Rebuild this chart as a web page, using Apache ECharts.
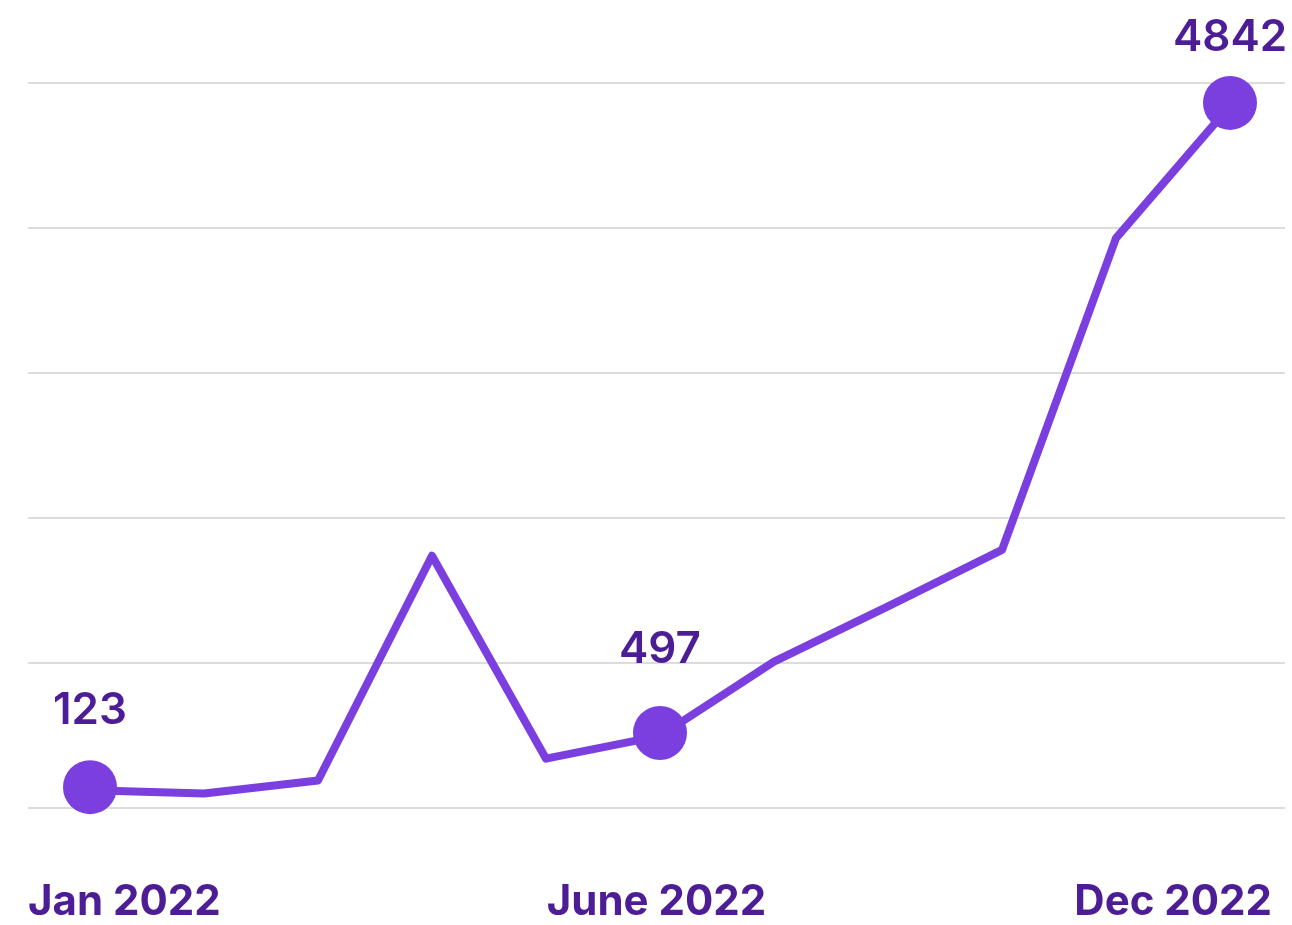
<!DOCTYPE html>
<html>
<head>
<meta charset="utf-8">
<script src="https://cdn.jsdelivr.net/npm/echarts@6/dist/echarts.min.js"></script>
<style>
  html, body { margin: 0; padding: 0; background: #fff; }
  #chart { width: 1292px; height: 925px; }
</style>
</head>
<body>
<div id="chart"></div>
<script>
// point names (hidden axis)
var points = ["Jan", "Feb", "Mar", "Apr", "May", "Jun", "Jul", "Aug", "Sep", "Oct", "Dec"];
var values = [123, 100, 190, 1740, 340, 497, 1010, 1390, 1780, 3930, 4842];
// points that get a dot and a value label
var markedIdx = [0, 5, 10];
var labelGap = [27, 34, 16];
// labels shown under the chart
var tickLabels = ["Jan 2022", "June 2022", "Dec 2022"];

var lineColor = "#7b3fe0";
var textColor = "#4c1d95";

var seriesData = values.map(function (v, i) {
  var k = markedIdx.indexOf(i);
  if (k < 0) {
    return { value: v, symbol: "none" };
  }
  return {
    value: v,
    symbol: "circle",
    symbolSize: 54,
    label: { show: true, position: "top", distance: labelGap[k] }
  };
});

var myChart = echarts.init(document.getElementById("chart"));
var option = {
  animation: false,
  grid: [
    { left: 28, right: 7, top: 83, bottom: 117, outerBoundsMode: "none" },
    { left: 33, right: 5, top: 83, bottom: 117, outerBoundsMode: "none" }
  ],
  xAxis: [
    {
      gridIndex: 0,
      type: "category",
      data: tickLabels.map(function (t, i) {
        if (i === 0) return { value: t, textStyle: { align: "left" } };
        if (i === tickLabels.length - 1) {
          return { value: t, textStyle: { align: "right", padding: [0, 13, 0, 0] } };
        }
        return t;
      }),
      boundaryGap: false,
      axisLine: { show: false },
      axisTick: { show: false },
      axisLabel: {
        margin: 73,
        color: textColor,
        fontFamily: "Inter",
        fontWeight: 700,
        fontSize: 42,
        interval: 0,
        hideOverlap: false
      }
    },
    {
      gridIndex: 1,
      type: "category",
      data: points,
      boundaryGap: true,
      show: false
    }
  ],
  yAxis: [
    {
      gridIndex: 0,
      type: "value",
      min: 0,
      max: 5000,
      interval: 1000,
      axisLabel: { show: false },
      axisLine: { show: false },
      axisTick: { show: false },
      splitLine: { lineStyle: { color: "#dcdcdc", width: 2 } }
    },
    {
      gridIndex: 1,
      type: "value",
      min: 0,
      max: 5000,
      show: false,
      splitLine: { show: false }
    }
  ],
  series: [
    {
      type: "line",
      xAxisIndex: 1,
      yAxisIndex: 1,
      data: seriesData,
      symbolOffset: [0, -3],
      lineStyle: { color: lineColor, width: 8, join: "round" },
      itemStyle: { color: lineColor },
      label: {
        color: textColor,
        fontFamily: "Inter",
        fontWeight: 600,
        fontSize: 44
      },
      z: 3
    }
  ]
};
myChart.setOption(option);
window.addEventListener("resize", function () {
  myChart.resize();
});
</script>
</body>
</html>
